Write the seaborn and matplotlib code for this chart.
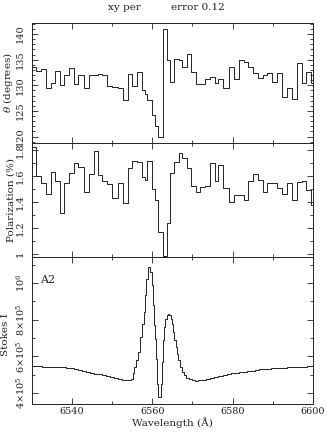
import matplotlib
matplotlib.use("Agg")
import matplotlib.pyplot as plt
import seaborn as sns
from matplotlib.ticker import MultipleLocator, FixedLocator, FixedFormatter

# bin edges (Angstrom) shared by the angle and polarization panels
bin_edges = [6530.0, 6531.07, 6532.31, 6533.55, 6534.79, 6535.88, 6537.13, 6538.19,
             6539.36, 6540.60, 6541.67, 6543.08, 6544.23, 6545.47, 6546.63, 6547.63,
             6548.87, 6550.11, 6551.60, 6552.84, 6554.01, 6555.00, 6556.24, 6557.48,
             6558.13, 6558.80, 6559.97, 6560.78, 6561.45, 6562.60, 6563.69, 6564.51,
             6565.33, 6566.57, 6567.41, 6568.66, 6569.72, 6570.89, 6571.96, 6573.20,
             6574.44, 6575.51, 6576.35, 6577.54, 6579.15, 6580.40, 6581.64, 6582.88,
             6583.95, 6585.04, 6586.43, 6587.52, 6588.67, 6589.91, 6591.15, 6592.39,
             6593.48, 6594.72, 6595.96, 6597.21, 6598.27, 6599.44, 6600.0]

theta = [133.6, 132.85, 133.1, 129.4, 130.5, 132.8, 130.1, 132.0, 133.3, 130.2,
         132.0, 129.4, 132.0, 132.0, 132.2, 132.0, 129.9, 129.6, 129.4, 127.1,
         132.2, 129.8, 132.5, 129.0, 128.3, 127.1, 124.2, 122.1, 120.0, 140.9,
         134.9, 130.6, 135.1, 134.9, 133.6, 136.1, 132.5, 130.25, 130.25, 131.2,
         131.6, 130.4, 131.3, 129.4, 133.6, 131.2, 134.9, 134.6, 133.6, 132.3,
         131.4, 132.0, 132.3, 130.7, 132.3, 127.8, 129.4, 127.3, 134.3, 130.5,
         132.5, 130.5]

pol = [1.82, 1.60, 1.55, 1.46, 1.63, 1.56, 1.315, 1.55, 1.62, 1.70,
       1.667, 1.477, 1.615, 1.795, 1.605, 1.56, 1.54, 1.43, 1.546, 1.392,
       1.662, 1.718, 1.708, 1.59, 1.572, 1.718, 1.50, 1.418, 1.169, 0.982,
       1.238, 1.623, 1.708, 1.777, 1.738, 1.662, 1.52, 1.477, 1.513, 1.52,
       1.70, 1.559, 1.682, 1.508, 1.40, 1.452, 1.456, 1.418, 1.564, 1.615,
       1.572, 1.477, 1.546, 1.546, 1.508, 1.462, 1.546, 1.418, 1.554, 1.564,
       1.495, 1.379]

# Stokes I spectrum
wave_i = [6530, 6531, 6532, 6533, 6534, 6535, 6536, 6537, 6538, 6539, 6540,
          6541, 6542, 6543, 6544, 6545, 6546, 6547, 6548, 6549, 6550, 6551,
          6552, 6553, 6554, 6554.6, 6555.0, 6555.4, 6555.8, 6556.2, 6556.6,
          6557.3, 6557.7, 6558.05, 6558.4, 6558.7, 6559.05, 6559.4, 6559.7,
          6560.0, 6560.2, 6560.5, 6560.9, 6561.2, 6561.45, 6561.7, 6562.0,
          6562.3, 6562.5, 6562.85, 6563.1, 6563.4, 6563.8, 6564.1, 6564.5,
          6564.75, 6565.1, 6565.3, 6565.7, 6566.0, 6566.3, 6566.7, 6567.2,
          6567.7, 6568.2, 6568.8, 6569.5, 6570.3, 6571, 6572, 6573, 6574,
          6575, 6576, 6577, 6578, 6579, 6580, 6581, 6582, 6583, 6584, 6585,
          6586, 6587, 6588, 6589, 6590, 6591, 6592, 6593, 6594, 6595, 6596,
          6597, 6598, 6599, 6600]
stokes_i = [5.47e5, 5.46e5, 5.45e5, 5.44e5, 5.44e5, 5.43e5, 5.42e5, 5.41e5, 5.40e5,
            5.38e5, 5.36e5, 5.32e5, 5.27e5, 5.22e5, 5.16e5, 5.10e5, 5.05e5, 5.01e5,
            4.97e5, 4.92e5, 4.87e5, 4.82e5, 4.77e5, 4.73e5, 4.71e5, 4.72e5, 4.78e5,
            5.11e5, 5.42e5, 5.78e5, 6.23e5, 7.05e5, 7.78e5, 8.41e5, 9.32e5, 1.023e6,
            1.087e6, 1.085e6, 1.06e6, 9.87e5, 8.78e5, 7.69e5, 6.96e5, 5.87e5, 4.51e5,
            3.78e5, 3.78e5, 4.51e5, 5.69e5, 6.87e5, 7.6e5, 8.05e5, 8.23e5, 8.32e5,
            8.23e5, 8.05e5, 7.78e5, 7.32e5, 6.87e5, 6.51e5, 6.14e5, 5.78e5, 5.42e5,
            5.14e5, 4.96e5, 4.82e5, 4.75e5, 4.70e5, 4.68e5, 4.69e5, 4.73e5, 4.78e5,
            4.84e5, 4.89e5, 4.94e5, 4.98e5, 5.03e5, 5.07e5, 5.10e5, 5.13e5, 5.16e5,
            5.19e5, 5.22e5, 5.25e5, 5.28e5, 5.30e5, 5.33e5, 5.35e5, 5.36e5, 5.37e5,
            5.38e5, 5.39e5, 5.40e5, 5.41e5, 5.42e5, 5.44e5, 5.45e5, 5.47e5]

i_ticks = [4e5, 6e5, 8e5, 1e6]
i_labels = [r"4$\times$10$^5$", r"6$\times$10$^5$", r"8$\times$10$^5$", r"10$^6$"]

sns.set_style("ticks")
plt.rcParams["font.family"] = ["DejaVu Serif"]
plt.rcParams["mathtext.fontset"] = "dejavuserif"

fig = plt.figure(figsize=(3.27, 4.32), dpi=100)
W, H = 327, 432
left, right = 31.5 / W, 313 / W
ax1 = fig.add_axes([left, 1 - 143 / H, right - left, 120 / H])
ax2 = fig.add_axes([left, 1 - 257 / H, right - left, 114 / H])
ax3 = fig.add_axes([left, 1 - 404 / H, right - left, 147 / H])

lc = "#222222"
sns.lineplot(x=bin_edges, y=theta + [theta[-1]], drawstyle="steps-post",
             estimator=None, sort=False, color=lc, linewidth=0.7, ax=ax1)
sns.lineplot(x=bin_edges, y=pol + [pol[-1]], drawstyle="steps-post",
             estimator=None, sort=False, color=lc, linewidth=0.7, ax=ax2)
sns.lineplot(x=wave_i, y=stokes_i, drawstyle="steps-mid",
             estimator=None, sort=False, color=lc, linewidth=0.7, ax=ax3)

ax1.set_ylim(118.75, 142.14)
ax1.yaxis.set_major_locator(MultipleLocator(5))
ax1.yaxis.set_minor_locator(MultipleLocator(1))
ax2.set_ylim(0.977, 1.854)
ax2.yaxis.set_major_locator(FixedLocator([1.0, 1.2, 1.4, 1.6, 1.8]))
ax2.yaxis.set_major_formatter(FixedFormatter(["1", "1.2", "1.4", "1.6", "1.8"]))
ax2.yaxis.set_minor_locator(MultipleLocator(0.1))
ax3.set_ylim(3.40e5, 1.141e6)
ax3.yaxis.set_major_locator(FixedLocator(i_ticks))
ax3.yaxis.set_major_formatter(FixedFormatter(i_labels))
ax3.yaxis.set_minor_locator(MultipleLocator(1e5))

for ax in (ax1, ax2, ax3):
    ax.set_xlim(6530, 6600)
    ax.xaxis.set_major_locator(MultipleLocator(20))
    ax.xaxis.set_minor_locator(MultipleLocator(10))
    ax.tick_params(which="both", direction="in", top=True, right=True,
                   width=0.6, color=lc, labelsize=7, labelcolor="#222222")
    ax.tick_params(which="major", length=4)
    ax.tick_params(which="minor", length=2)
    ax.tick_params(axis="y", labelrotation=90, pad=5)
    for lab in ax.get_yticklabels():
        lab.set_va("center")
    for s in ax.spines.values():
        s.set_linewidth(0.7)
        s.set_color(lc)

ax1.tick_params(axis="x", labelbottom=False)
ax2.tick_params(axis="x", labelbottom=False)
ax3.tick_params(axis="x", pad=2)
ax3.tick_params(axis="y", pad=3)

ax1.set_xlabel("")
ax2.set_xlabel("")
ax1.set_ylabel(r"$\theta$ (degrees)", fontsize=7.5, color="#222222")
ax2.set_ylabel("Polarization (%)", fontsize=7.5, color="#222222")
ax3.set_ylabel("Stokes I", fontsize=7.5, color="#222222")
ax3.set_xlabel("Wavelength (Å)", fontsize=7.5, color="#222222", labelpad=1)
ax1.yaxis.set_label_coords(-0.058, 0.5)
ax2.yaxis.set_label_coords(-0.058, 0.5)
ax3.yaxis.set_label_coords(-0.075, 0.47)

ax3.text(0.03, 0.845, "A2", transform=ax3.transAxes, fontsize=8,
         va="center", ha="left", color="#222222")
fig.text(124 / W, 1 - 8 / H, "xy per", ha="center", va="center", fontsize=7.5,
         color="#222222")
fig.text(198 / W, 1 - 8 / H, "error 0.12", ha="center", va="center", fontsize=7.5,
         color="#222222")

fig.savefig("out.png", dpi=100)
